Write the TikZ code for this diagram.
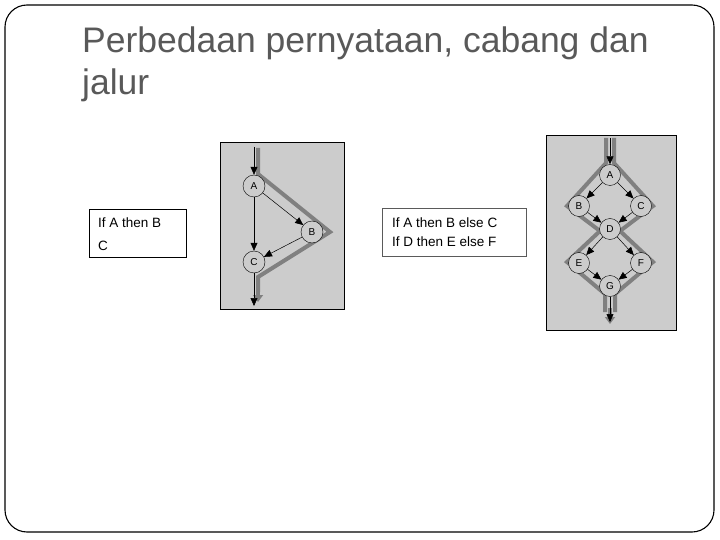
\documentclass[tikz,border=0pt]{standalone}
\usepackage{fontspec}
\setmainfont{Liberation Sans}
\usetikzlibrary{arrows.meta}
\definecolor{titlegray}{RGB}{89,89,89}
\definecolor{panelgray}{RGB}{204,204,204}
\definecolor{pathgray}{RGB}{128,128,128}
\definecolor{boxline}{RGB}{90,90,90}
\tikzset{
  arr/.style={draw=black, line width=0.5pt, -{Triangle[length=8pt,width=7pt]}},
  flow/.style={draw=pathgray, line width=4pt, line join=miter},
  flowend/.style={flow, -{Triangle[length=7pt,width=10pt]}},
  nd/.style={circle, draw=black, line width=0.4pt, fill=panelgray, minimum size=21pt, inner sep=0pt, font=\fontsize{10}{10}\selectfont},
  panel/.style={draw=black, line width=0.9pt, fill=panelgray},
  codebox/.style={draw=black, line width=0.8pt, fill=white},
  codetxt/.style={anchor=base west, inner sep=0pt, font=\fontsize{13.5}{13.5}\selectfont},
  titletxt/.style={anchor=base west, inner sep=0pt, text=titlegray, font=\fontsize{35.5}{42}\selectfont}
}
\begin{document}
\begin{tikzpicture}[x=1pt,y=-1pt]
\useasboundingbox (0,0) rectangle (720,540);
% outer frame
\draw[line width=1.1pt, rounded corners=22pt] (5,5) rectangle (714,532);
% title
\node[titletxt] (t1) at (82,53) {Perbedaan pernyataan, cabang dan};
\node[titletxt] (t2) at (82,95) {jalur};
% code box 1
\draw[codebox] (89,209) rectangle (186,257);
\node[codetxt] (c1a) at (98,227) {If A then B};
\node[codetxt] (c1b) at (98,251) {C};
% panel 1
\draw[panel] (220,142) rectangle (344,309);
\draw[flow] (258,148) -- (258,174) -- (330,232) -- (258,277) -- (258,292);
\draw[flowend] (258,288) -- (258,302);
\node[nd, minimum size=22pt] (A1) at (254,186) {A};
\node[nd, minimum size=22pt] (B1) at (312,232) {B};
\node[nd, minimum size=22pt] (C1) at (254,262) {C};
\coordinate (in1) at (254,147);
\coordinate (out1) at (254,306);
\draw[arr] (in1) -- (A1);
\draw[arr] (A1) -- (B1);
\draw[arr] (A1) -- (C1);
\draw[arr] (B1) -- (C1);
\draw[arr] (C1) -- (out1);
% code box 2
\draw[codebox, draw=boxline] (382,208) rectangle (526,256);
\node[codetxt] (c2a) at (392,227) {If A then B else C};
\node[codetxt] (c2b) at (392,247) {If D then E else F};
% panel 2
\draw[panel] (546,135) rectangle (676,330);
\draw[flow] (606,138) -- (606,163) -- (567,206) -- (600,231) -- (567,262) -- (605,294) -- (605,312);
\draw[flow] (614,138) -- (614,163) -- (653,206) -- (620,231) -- (653,262) -- (615,294) -- (615,312);
\draw[flowend] (610,308) -- (610,324);
\node[nd] (A2) at (610,175) {A};
\node[nd] (B2) at (579,206) {B};
\node[nd] (C2) at (641,206) {C};
\node[nd] (D2) at (610,229) {D};
\node[nd] (E2) at (579,263) {E};
\node[nd] (F2) at (641,263) {F};
\node[nd] (G2) at (610,286) {G};
\coordinate (in2) at (610,138);
\coordinate (out2) at (610,322);
\draw[arr] (in2) -- (A2);
\draw[arr] (A2) -- (B2);
\draw[arr] (A2) -- (C2);
\draw[arr] (B2) -- (D2);
\draw[arr] (C2) -- (D2);
\draw[arr] (D2) -- (E2);
\draw[arr] (D2) -- (F2);
\draw[arr] (E2) -- (G2);
\draw[arr] (F2) -- (G2);
\draw[arr] (G2) -- (out2);
\end{tikzpicture}
\end{document}
